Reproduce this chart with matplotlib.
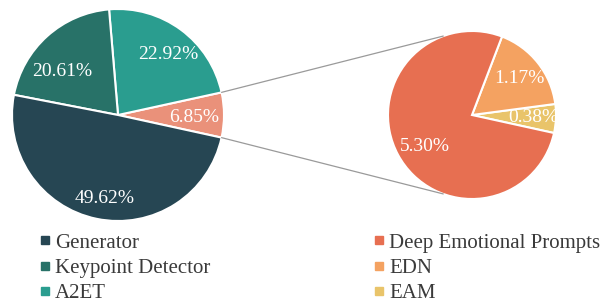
import matplotlib.pyplot as plt
import numpy as np
from matplotlib.patches import ConnectionPatch
from matplotlib.lines import Line2D

plt.rcParams['font.family'] = ['Liberation Serif', 'DejaVu Serif']

# left pie (counter-clockwise from the small slice)
left_labels = ['Emotion modules', 'A2ET', 'Keypoint Detector', 'Generator']
left_values = [6.85, 22.92, 20.61, 49.62]
left_colors = ['#ea917a', '#2a9d8f', '#287268', '#264653']

# right pie: breakdown of the 6.85% slice
right_labels = ['EAM', 'EDN', 'Deep Emotional Prompts']
right_values = [0.38, 1.17, 5.30]
right_colors = ['#e9c46a', '#f4a261', '#e76f51']

# where the percentage labels sit, in units of the pie radius
left_label_pos = [(0.72, -0.02), (0.47, 0.575), (-0.53, 0.415), (-0.13, -0.79)]
right_label_pos = [(0.73, -0.025), (0.56, 0.43), (-0.56, -0.38)]

W, H = 608, 302
fig = plt.figure(figsize=(W / 100, H / 100), dpi=100)


def pie_axes(cx, cy, r, pad=1.04):
    s = r * pad
    ax = fig.add_axes([(cx - s) / W, (H - cy - s) / H, 2 * s / W, 2 * s / H])
    return ax, pad


def place(texts, pos):
    for t, (x, y) in zip(texts, pos):
        t.set_position((x, y))
        t.set_va('center')
        t.set_ha('center')


ax1, p1 = pie_axes(118, 115, 106)
start1 = -left_values[0] / 100 * 360 / 2
_, _, at1 = ax1.pie(left_values, colors=left_colors, startangle=start1, counterclock=True,
                    autopct='%.2f%%', pctdistance=0.74,
                    wedgeprops=dict(edgecolor='white', linewidth=1.5),
                    textprops=dict(color='white', fontsize=14))
place(at1, left_label_pos)
ax1.set_xlim(-p1, p1)
ax1.set_ylim(-p1, p1)

ax2, p2 = pie_axes(472, 115, 84)
total2 = sum(right_values)
start2 = -12.4
_, _, at2 = ax2.pie(right_values, colors=right_colors, startangle=start2, counterclock=True,
                    autopct=lambda p: '%.2f%%' % (p * total2 / 100), pctdistance=0.7,
                    wedgeprops=dict(edgecolor='white', linewidth=1.5),
                    textprops=dict(color='white', fontsize=14))
place(at2, right_label_pos)
ax2.set_xlim(-p2, p2)
ax2.set_ylim(-p2, p2)

# connector lines between the small slice and the breakdown pie
a = np.deg2rad(-start1)
for sgn in (1, -1):
    b = np.deg2rad(110 * sgn)
    con = ConnectionPatch(xyA=(np.cos(a), sgn * np.sin(a)), coordsA=ax1.transData,
                          xyB=(np.cos(b), np.sin(b)), coordsB=ax2.transData,
                          color='#9a9a9a', linewidth=0.9)
    fig.add_artist(con)


def handles(labels, colors):
    return [Line2D([], [], marker='s', linestyle='none', markersize=5.5,
                   color=c, label=l) for l, c in zip(labels, colors)]


leg_kw = dict(frameon=False, fontsize=15, handlelength=0.5, handletextpad=0.22,
              labelspacing=0.27, borderaxespad=0, borderpad=0,
              labelcolor='#3a3a3a', loc='upper left')
fig.legend(handles=handles(['Generator', 'Keypoint Detector', 'A2ET'],
                           ['#264653', '#287268', '#2a9d8f']),
           bbox_to_anchor=(40 / W, 1 - 233 / H), **leg_kw)
fig.legend(handles=handles(['Deep Emotional Prompts', 'EDN', 'EAM'],
                           ['#e76f51', '#f4a261', '#e9c46a']),
           bbox_to_anchor=(374 / W, 1 - 233 / H), **leg_kw)

fig.savefig('out.png', dpi=100)
